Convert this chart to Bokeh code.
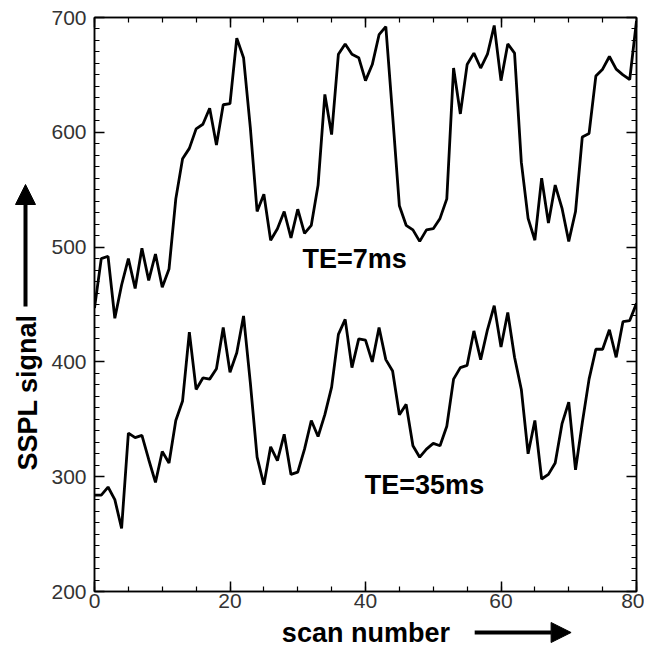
from bokeh.plotting import figure
from bokeh.layouts import row, column
from bokeh.models import (Range1d, LinearAxis, Label, Arrow, NormalHead,
                          SingleIntervalTicker, CustomJSTickFormatter)
from bokeh.embed import file_html
from bokeh.resources import INLINE

scan = list(range(81))
te7 = [447, 490, 492, 438, 467, 490, 464, 499, 471, 494,
       465, 481, 542, 577, 586, 603, 607, 621, 589, 624,
       625, 682, 665, 604, 531, 546, 506, 516, 531, 508,
       533, 512, 519, 554, 633, 598, 668, 677, 668, 665,
       645, 659, 685, 692, 615, 536, 519, 515, 505, 515,
       516, 525, 542, 656, 616, 659, 669, 656, 668, 693,
       645, 677, 669, 574, 525, 506, 560, 521, 554, 534,
       505, 531, 596, 599, 649, 655, 666, 655, 650, 646, 697]
te35 = [284, 284, 291, 280, 255, 338, 334, 336, 315, 295,
        322, 312, 349, 366, 426, 376, 386, 385, 394, 430,
        391, 408, 440, 382, 317, 293, 326, 314, 337, 302,
        304, 324, 349, 335, 354, 378, 424, 437, 395, 420,
        419, 400, 430, 402, 392, 354, 363, 327, 317, 324,
        329, 327, 344, 385, 395, 397, 427, 402, 428, 449,
        413, 443, 404, 376, 320, 349, 298, 302, 312, 346,
        365, 306, 347, 385, 411, 411, 428, 404, 435, 436, 451]

label7 = "TE=7ms"
label35 = "TE=35ms"
xtitle = "scan  number"
ytitle = "SSPL signal"

bold = dict(text_font="Liberation Sans", text_font_style="bold",
            text_font_size="27px", text_color="black")

# ---------------- main plot ----------------
p = figure(frame_width=542, frame_height=574,
           x_range=Range1d(0, 80), y_range=Range1d(200, 700),
           output_backend="svg", toolbar_location=None,
           min_border_left=45, min_border_right=8, min_border_top=17,
           min_border_bottom=26)
p.grid.visible = False
p.background_fill_color = "white"
p.border_fill_color = "white"
p.outline_line_color = "black"
p.outline_line_width = 1.5


def style_axis(ax, show_labels):
    ax.axis_label = None
    ax.axis_line_width = 1.5
    ax.axis_line_color = "black"
    ax.major_tick_in = 10
    ax.major_tick_out = 0
    ax.minor_tick_in = 5
    ax.minor_tick_out = 0
    ax.major_tick_line_width = 1.5
    ax.minor_tick_line_width = 1.2
    ax.major_tick_line_color = "black"
    ax.minor_tick_line_color = "black"
    if show_labels:
        ax.major_label_text_font = "Liberation Sans"
        ax.major_label_text_font_size = "21px"
        ax.major_label_text_color = "#333333"
    else:
        ax.formatter = CustomJSTickFormatter(code="return '';")
        ax.major_label_text_font_size = "0px"
        ax.major_label_standoff = 0


p.xaxis.ticker = SingleIntervalTicker(interval=20, num_minor_ticks=4)
p.yaxis.ticker = SingleIntervalTicker(interval=100, num_minor_ticks=10)
style_axis(p.xaxis[0], True)
style_axis(p.yaxis[0], True)
p.xaxis.major_label_standoff = 2
p.yaxis.major_label_standoff = 8

top = LinearAxis(ticker=SingleIntervalTicker(interval=20, num_minor_ticks=4))
right = LinearAxis(ticker=SingleIntervalTicker(interval=100, num_minor_ticks=10))
style_axis(top, False)
style_axis(right, False)
p.add_layout(top, "above")
p.add_layout(right, "right")

p.line(scan, te7, line_color="black", line_width=2.8)
p.line(scan, te35, line_color="black", line_width=2.8)

p.add_layout(Label(x=30.7, y=490, text=label7, text_align="left",
                   text_baseline="middle", **bold))
p.add_layout(Label(x=39.9, y=293, text=label35, text_align="left",
                   text_baseline="middle", **bold))

# ---------------- left title strip (pixel-like coordinates) ----------------
lf = figure(width=48, height=648, x_range=Range1d(0, 48), y_range=Range1d(648, 0),
            x_axis_type=None, y_axis_type=None, min_border=0,
            output_backend="svg", toolbar_location=None)
lf.grid.visible = False
lf.outline_line_color = None
lf.add_layout(Label(x=27, y=392, text=ytitle, text_align="center",
                    text_baseline="middle", angle=1.5708, **bold))
lf.add_layout(Arrow(x_start=25, y_start=306, x_end=25, y_end=184,
                    line_width=4, line_color="black",
                    end=NormalHead(size=20, fill_color="black", line_color="black")))

# ---------------- bottom title strip (local coordinates) ----------------
bf = figure(width=597, height=31, x_range=Range1d(48, 645), y_range=Range1d(31, 0),
            x_axis_type=None, y_axis_type=None, min_border=0,
            output_backend="svg", toolbar_location=None)
bf.grid.visible = False
bf.outline_line_color = None
bf.add_layout(Label(x=254, y=15, text=xtitle, text_align="left",
                    text_baseline="middle", **bold))
bf.add_layout(Arrow(x_start=466, y_start=15, x_end=572, y_end=15,
                    line_width=4, line_color="black",
                    end=NormalHead(size=20, fill_color="black", line_color="black")))

layout = row(lf, column(p, bf, spacing=0), spacing=0)
open("out.html", "w").write(file_html(layout, INLINE))
